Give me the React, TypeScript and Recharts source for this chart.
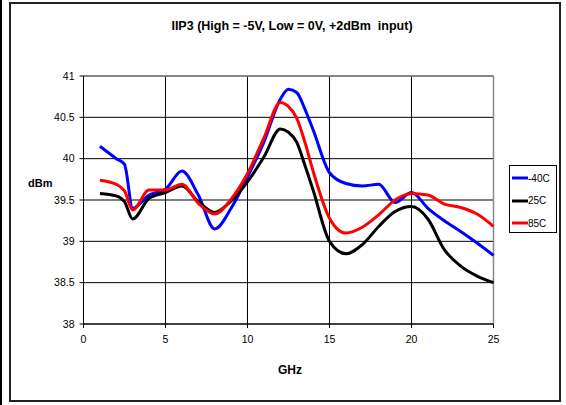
import React from 'react';
import { LineChart, Line, XAxis, YAxis, CartesianGrid, ReferenceLine } from 'recharts';

// GHz sample points shared by all three curves
const freqs = [1, 2, 2.5, 3, 4, 5, 6, 7, 8, 9, 10, 11, 12, 12.5, 13, 13.5, 14, 15, 16, 17, 18, 19, 20, 21, 22, 23, 24, 25];

const iip3Cold = [40.15, 40.0, 39.93, 39.4, 39.56, 39.63, 39.85, 39.56, 39.15, 39.4, 39.78, 40.2, 40.72, 40.84, 40.8, 40.6, 40.35, 39.83, 39.7, 39.67, 39.69, 39.47, 39.59, 39.4, 39.25, 39.12, 38.98, 38.83];
const iip3Room = [39.58, 39.55, 39.48, 39.27, 39.52, 39.59, 39.67, 39.48, 39.35, 39.49, 39.72, 40.02, 40.36, 40.32, 40.2, 39.92, 39.62, 39.0, 38.85, 38.96, 39.18, 39.36, 39.42, 39.27, 38.9, 38.7, 38.58, 38.5];
const iip3Hot = [39.74, 39.69, 39.61, 39.38, 39.62, 39.62, 39.69, 39.46, 39.33, 39.51, 39.82, 40.25, 40.68, 40.63, 40.49, 40.2, 39.85, 39.28, 39.1, 39.17, 39.32, 39.5, 39.58, 39.56, 39.45, 39.41, 39.33, 39.18];

const xTicks = [0, 5, 10, 15, 20, 25];
const yTicks = [38, 38.5, 39, 39.5, 40, 40.5, 41];

const series = [
  { key: 'cold', name: '-40C', color: '#0000ff' },
  { key: 'room', name: '25C', color: '#000000' },
  { key: 'hot', name: '85C', color: '#ff0000' },
];

const data = freqs.map((f, i) => ({ ghz: f, cold: iip3Cold[i], room: iip3Room[i], hot: iip3Hot[i] }));

const font = '"Liberation Sans", Arial, sans-serif';

export default function App() {
  return (
    <div style={{ position: 'absolute', left: 0, top: 0, width: 566, height: 405, background: '#fff', fontFamily: font }}>
      <div style={{ position: 'absolute', left: 0, top: 0, width: 2, height: 405, background: '#000' }} />
      <div style={{ position: 'absolute', left: 9, top: 2, width: 548, height: 396, border: '2px solid #222' }} />
      <div style={{ position: 'absolute', left: 0, width: 584, top: 19, textAlign: 'center', fontSize: 12.5, fontWeight: 'bold', whiteSpace: 'pre' }}>
        IIP3 (High = -5V, Low = 0V, +2dBm  input)
      </div>
      <div style={{ position: 'absolute', left: 28, top: 177, fontSize: 11, fontWeight: 'bold' }}>dBm</div>
      <div style={{ position: 'absolute', left: 0, width: 580, top: 363, textAlign: 'center', fontSize: 12, fontWeight: 'bold' }}>GHz</div>

      <div style={{ position: 'absolute', left: 0, top: 0 }}>
        <LineChart width={566} height={405} data={data} margin={{ top: 76, right: 72.5, bottom: 51, left: 0 }}>
          <CartesianGrid stroke="#000" strokeWidth={1} />
          <XAxis
            dataKey="ghz"
            type="number"
            domain={[0, 25]}
            ticks={xTicks}
            height={30}
            tickSize={4}
            tickMargin={8}
            stroke="#000"
            tick={{ fill: '#000', fontSize: 10.5, fontFamily: font }}
          />
          <YAxis
            type="number"
            domain={[38, 41]}
            ticks={yTicks}
            width={83.5}
            tickSize={4}
            tickMargin={5}
            stroke="#000"
            tick={{ fill: '#000', fontSize: 10.5, fontFamily: font }}
          />
          <ReferenceLine y={41} stroke="#888" strokeWidth={1.5} />
          <ReferenceLine x={25} stroke="#888" strokeWidth={1.5} />
          {series.map((s) => (
            <Line
              key={s.key}
              type="monotone"
              dataKey={s.key}
              name={s.name}
              stroke={s.color}
              strokeWidth={3}
              dot={false}
              isAnimationActive={false}
            />
          ))}
        </LineChart>
      </div>

      <div style={{ position: 'absolute', left: 509, top: 165, width: 46, height: 66, border: '1px solid #000', background: '#fff' }}>
        {series.map((s, i) => (
          <div key={s.key} style={{ position: 'absolute', left: 2, top: 5 + i * 22.5, height: 14, display: 'flex', alignItems: 'center' }}>
            <svg width={16} height={6}>
              <line x1={0} y1={3} x2={16} y2={3} stroke={s.color} strokeWidth={3} />
            </svg>
            <span style={{ fontSize: 10, color: '#000' }}>{s.name}</span>
          </div>
        ))}
      </div>
    </div>
  );
}
